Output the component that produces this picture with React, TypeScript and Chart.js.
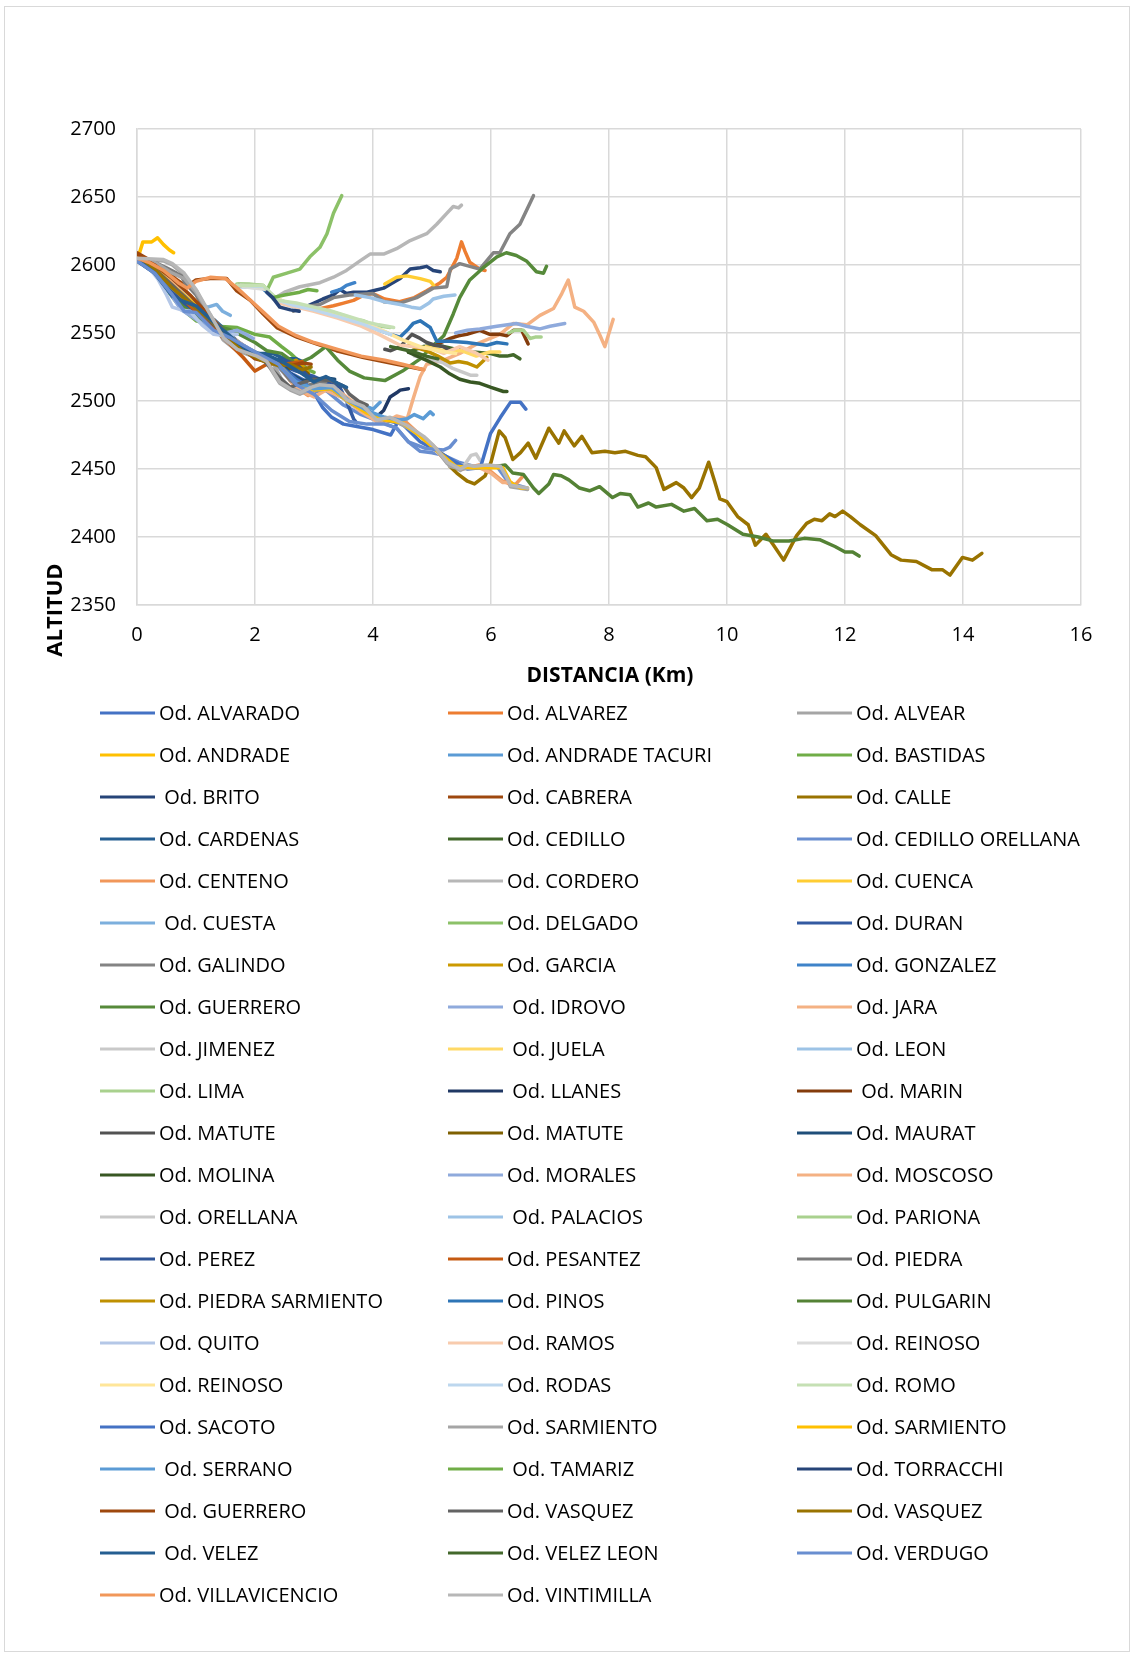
import React, { useEffect, useRef } from "react";
import { Chart, registerables } from "chart.js";

Chart.register(...registerables);

type Pt = [number, number];

// Longitudinal profiles: [distance (km), altitude (m)]
const odAlvarado: Pt[] = [[0,2605],[0.25,2598],[0.5,2586],[0.75,2574],[1.0,2563],[1.3,2553],[1.6,2546],[1.9,2538],[2.2,2530],[2.5,2523],[2.8,2516],[3.0,2506],[3.15,2495],[3.3,2488],[3.5,2483],[3.75,2481],[4.0,2479],[4.3,2475],[4.4,2483]];
const odAlvarez: Pt[] = [[3.0,2567],[3.33,2570],[3.5,2572],[3.67,2574],[3.85,2578],[4.0,2579],[4.2,2575],[4.45,2573],[4.7,2576],[4.91,2581],[5.14,2587],[5.25,2591],[5.42,2605],[5.5,2617],[5.56,2610],[5.64,2602],[5.81,2597],[5.9,2596]];
const odAlvear: Pt[] = [[0,2604],[0.45,2603],[0.6,2600],[0.79,2593],[1.01,2581],[1.24,2562],[1.46,2545],[1.69,2537],[2.03,2532],[2.2,2528],[2.42,2513],[2.6,2508],[2.76,2505],[2.95,2509],[3.1,2511],[3.33,2510],[3.45,2505],[3.55,2500],[3.84,2495],[4.06,2485],[4.29,2487],[4.58,2481],[4.86,2473],[5.03,2466],[5.15,2460],[5.26,2454],[5.48,2449],[5.6,2452],[5.71,2451],[5.93,2452],[6.16,2451],[6.25,2444],[6.33,2437],[6.62,2435]];
const odAndrade: Pt[] = [[0.0,2603],[0.1,2617],[0.25,2617],[0.35,2620],[0.45,2615],[0.55,2611],[0.62,2609]];
const odAndradeTacuri: Pt[] = [[0,2604],[0.3,2596],[0.6,2583],[0.9,2571],[1.2,2560],[1.5,2550],[1.8,2541],[2.1,2533],[2.4,2526],[2.7,2515],[3.0,2509],[3.3,2507],[3.6,2500],[3.84,2497],[4.0,2494],[4.12,2499]];
const odBastidas: Pt[] = [[0,2605],[0.3,2595],[0.5,2582],[0.75,2568],[1.0,2559],[1.35,2555],[1.7,2554],[2.0,2549],[2.25,2547],[2.45,2540],[2.6,2535],[2.75,2529],[2.9,2523],[3.0,2521]];
const odBrito: Pt[] = [[2.85,2569],[3.0,2572],[3.15,2575],[3.33,2578],[3.44,2582],[3.55,2579],[3.67,2580],[3.9,2580],[4.18,2583],[4.3,2586],[4.46,2590],[4.63,2597],[4.8,2598],[4.91,2599],[5.02,2596],[5.14,2595]];
const odCabrera: Pt[] = [[0,2609],[0.2,2604],[0.45,2598],[0.65,2590],[0.84,2584],[1.0,2589],[1.24,2590],[1.52,2590],[1.69,2581],[1.92,2574],[2.14,2564],[2.37,2554],[2.71,2547],[3.04,2542],[3.38,2537],[3.84,2532],[4.4,2527],[4.86,2523]];
const odCalle: Pt[] = [[5.3,2452],[5.42,2447],[5.6,2441],[5.72,2439],[5.9,2445],[6.0,2455],[6.14,2478],[6.24,2473],[6.37,2457],[6.5,2462],[6.63,2469],[6.76,2458],[6.98,2480],[7.15,2469],[7.24,2478],[7.41,2467],[7.54,2474],[7.71,2462],[7.93,2463],[8.1,2462],[8.28,2463],[8.49,2460],[8.62,2459],[8.8,2451],[8.93,2435],[9.14,2440],[9.27,2436],[9.4,2429],[9.53,2436],[9.69,2455],[9.79,2441],[9.88,2428],[10.0,2426],[10.18,2415],[10.36,2409],[10.48,2394],[10.66,2402],[10.79,2394],[10.96,2383],[11.18,2401],[11.35,2410],[11.48,2413],[11.61,2412],[11.74,2417],[11.83,2415],[11.96,2419],[12.09,2415],[12.26,2409],[12.52,2401],[12.78,2387],[12.95,2383],[13.21,2382],[13.47,2376],[13.65,2376],[13.78,2372],[13.99,2385],[14.16,2383],[14.32,2388]];
const odCardenas: Pt[] = [[0,2604],[0.3,2595],[0.55,2582],[0.8,2575],[1.0,2568],[1.3,2560],[1.55,2550],[1.8,2540],[2.05,2535],[2.3,2535],[2.5,2531],[2.7,2531],[2.85,2528]];
const odCedillo: Pt[] = [[4.6,2536],[4.85,2540],[5.1,2541],[5.4,2538],[5.7,2536],[5.98,2535],[6.15,2533],[6.27,2533],[6.38,2534],[6.49,2531]];
const odCedilloOrellana: Pt[] = [[0,2603],[0.3,2594],[0.55,2580],[0.75,2568],[1.0,2565],[1.3,2553],[1.6,2546],[2.0,2536],[2.4,2525],[2.7,2510],[2.9,2506],[3.2,2508],[3.5,2497],[3.8,2490],[4.1,2485],[4.4,2480],[4.6,2470],[4.8,2463],[5.0,2462],[5.2,2460],[5.45,2455],[5.7,2452],[5.9,2450],[6.1,2452],[6.3,2440],[6.6,2436]];
const odCenteno: Pt[] = [[0,2606],[0.3,2600],[0.6,2588],[0.9,2575],[1.2,2563],[1.5,2550],[1.8,2540],[2.1,2532],[2.4,2527],[2.7,2510],[2.9,2504],[3.1,2511],[3.4,2507],[3.7,2496],[4.0,2490],[4.2,2485],[4.5,2487],[4.8,2475],[5.0,2466],[5.2,2458],[5.5,2450],[5.8,2453],[6.0,2448],[6.2,2441],[6.4,2438],[6.55,2445]];
const odCordero: Pt[] = [[2.31,2575],[2.5,2580],[2.76,2584],[3.1,2587],[3.33,2591],[3.55,2596],[3.78,2603],[3.95,2608],[4.18,2608],[4.4,2612],[4.63,2618],[4.91,2623],[5.08,2630],[5.25,2638],[5.36,2643],[5.45,2642],[5.5,2644]];
const odCuenca: Pt[] = [[4.2,2586],[4.4,2591],[4.57,2592],[4.8,2590],[4.97,2588],[5.03,2585]];
const odCuesta: Pt[] = [[0,2604],[0.3,2597],[0.6,2585],[0.85,2576],[1.05,2571],[1.2,2569],[1.35,2571],[1.45,2566],[1.58,2563]];
const odDelgado: Pt[] = [[1.72,2586],[2.14,2585],[2.2,2581],[2.31,2591],[2.54,2594],[2.76,2597],[2.93,2606],[3.1,2613],[3.22,2623],[3.33,2638],[3.47,2651]];
const odDuran: Pt[] = [[0,2604],[0.3,2596],[0.6,2582],[0.9,2571],[1.2,2561],[1.5,2548],[1.8,2538],[2.1,2531],[2.4,2527],[2.7,2522],[3.0,2518],[3.2,2514],[3.44,2510],[3.55,2500],[3.67,2487],[3.72,2484]];
const odGalindo: Pt[] = [[2.65,2566],[2.8,2569],[3.1,2571],[3.33,2576],[3.6,2578],[4.0,2579],[4.18,2573],[4.46,2572],[4.74,2576],[5.02,2583],[5.25,2584],[5.31,2597],[5.47,2601],[5.81,2597],[6.04,2609],[6.15,2609],[6.32,2623],[6.49,2630],[6.72,2651]];
const odGarcia: Pt[] = [[0,2605],[0.3,2597],[0.6,2584],[0.9,2574],[1.2,2562],[1.5,2549],[1.8,2538],[2.0,2533],[2.3,2530],[2.5,2526],[2.7,2530],[2.8,2526],[2.9,2521]];
const odGonzalez: Pt[] = [[3.3,2580],[3.45,2582],[3.55,2585],[3.69,2587]];
const odGuerrero: Pt[] = [[0,2605],[0.3,2595],[0.6,2578],[0.9,2565],[1.2,2557],[1.6,2552],[2.0,2543],[2.2,2537],[2.45,2535],[2.7,2527],[2.95,2532],[3.2,2540],[3.4,2530],[3.6,2522],[3.85,2517],[4.2,2515],[4.5,2522],[4.8,2531],[5.0,2540],[5.2,2548],[5.36,2564],[5.47,2576],[5.64,2589],[5.87,2598],[6.1,2606],[6.26,2609],[6.43,2607],[6.6,2603],[6.77,2595],[6.89,2594],[6.94,2599]];
const odIdrovo: Pt[] = [[0,2604],[0.3,2597],[0.55,2580],[0.75,2567],[1.0,2560],[1.3,2552],[1.5,2550],[1.7,2552],[1.85,2549],[1.97,2546]];
const odJara: Pt[] = [[0,2605],[0.3,2601],[0.6,2590],[0.9,2577],[1.2,2564],[1.5,2550],[1.8,2541],[2.1,2533],[2.4,2528],[2.7,2512],[2.9,2505],[3.1,2510],[3.4,2508],[3.7,2498],[4.0,2490],[4.2,2484],[4.4,2489],[4.58,2487],[4.69,2503],[4.8,2518],[4.91,2527],[5.2,2530],[5.47,2535],[5.76,2542],[6.15,2549],[6.38,2557],[6.61,2556],[6.83,2563],[7.06,2568],[7.2,2579],[7.31,2589],[7.42,2569],[7.57,2566],[7.74,2558],[7.85,2548],[7.93,2540],[8.07,2560]];
const odJimenez: Pt[] = [[4.7,2533],[4.95,2531],[5.19,2528],[5.35,2524],[5.53,2521],[5.65,2519],[5.76,2519]];
const odJuela: Pt[] = [[4.9,2540],[5.2,2537],[5.5,2537],[5.75,2533],[5.98,2536],[6.15,2536]];
const odLeon: Pt[] = [[3.7,2578],[3.95,2576],[4.2,2573],[4.46,2571],[4.65,2569],[4.8,2568],[4.95,2572],[5.02,2575],[5.2,2577],[5.39,2578]];
const odLima: Pt[] = [[1.69,2586],[1.9,2586],[2.14,2585],[2.25,2579],[2.37,2575],[2.5,2573],[2.71,2571],[2.9,2569],[3.0,2568],[3.27,2566],[3.5,2563],[3.7,2560],[3.84,2559],[4.0,2556],[4.15,2555],[4.29,2554]];
const odLlanes: Pt[] = [[3.9,2491],[4.05,2488],[4.18,2493],[4.29,2503],[4.4,2506],[4.46,2508],[4.6,2509]];
const odMarin: Pt[] = [[5.1,2542],[5.31,2546],[5.45,2548],[5.59,2549],[5.81,2552],[5.98,2549],[6.15,2549],[6.27,2548],[6.38,2552],[6.52,2552],[6.63,2542]];
const odMatute: Pt[] = [[4.2,2538],[4.3,2537],[4.46,2540],[4.66,2549],[4.8,2546],[4.91,2543],[5.05,2541],[5.19,2540],[5.31,2537]];
const odMatuteB: Pt[] = [[0,2605],[0.3,2596],[0.6,2582],[0.9,2570],[1.2,2560],[1.5,2548],[1.8,2537],[2.0,2533],[2.2,2530],[2.4,2527],[2.6,2524],[2.75,2525],[2.9,2520]];
const odMaurat: Pt[] = [[0,2603],[0.3,2594],[0.6,2580],[0.9,2572],[1.2,2559],[1.5,2549],[1.8,2539],[2.1,2533],[2.4,2530],[2.6,2520],[2.8,2515],[3.0,2516],[3.2,2517],[3.35,2516]];
const odMolina: Pt[] = [[4.6,2536],[4.9,2530],[5.14,2525],[5.3,2520],[5.47,2516],[5.65,2514],[5.81,2513],[6.0,2510],[6.21,2507],[6.27,2507]];
const odMorales: Pt[] = [[5.4,2550],[5.6,2552],[5.81,2553],[6.1,2555],[6.43,2557],[6.6,2555],[6.83,2553],[7.0,2555],[7.25,2557]];
const odMoscoso: Pt[] = [[0,2605],[0.3,2600],[0.6,2589],[0.9,2577],[1.2,2563],[1.5,2549],[1.8,2539],[2.1,2531],[2.4,2526],[2.7,2509],[3.0,2503],[3.2,2508],[3.5,2502],[3.8,2492],[4.1,2484],[4.4,2486],[4.7,2478],[5.0,2468],[5.2,2460],[5.5,2451],[5.8,2451],[6.0,2447],[6.2,2440],[6.35,2440]];
const odOrellana: Pt[] = [[0,2604],[0.3,2600],[0.6,2590],[0.9,2577],[1.2,2563],[1.5,2548],[1.8,2539],[2.1,2532],[2.4,2527],[2.7,2512],[3.0,2508],[3.3,2509],[3.6,2498],[3.9,2492],[4.2,2487],[4.5,2483],[4.8,2474],[5.1,2462],[5.4,2452],[5.55,2453],[5.66,2460],[5.75,2461],[5.82,2456]];
const odPalacios: Pt[] = [[1.75,2584],[2.14,2583],[2.35,2574],[2.6,2570],[2.9,2568],[3.2,2566],[3.5,2562],[3.8,2558],[4.0,2555]];
const odPariona: Pt[] = [[6.3,2550],[6.4,2552],[6.55,2552],[6.66,2546],[6.75,2547],[6.85,2547]];
const odPerez: Pt[] = [[0,2604],[0.3,2595],[0.55,2583],[0.8,2572],[1.0,2566],[1.3,2557],[1.6,2546],[1.9,2537],[2.2,2531],[2.5,2530],[2.7,2527],[2.9,2518],[3.1,2513],[3.3,2515],[3.45,2510]];
const odPesantez: Pt[] = [[0,2605],[0.3,2596],[0.6,2584],[0.9,2570],[1.2,2557],[1.5,2545],[1.8,2532],[2.0,2522],[2.2,2527],[2.5,2527],[2.8,2529]];
const odPiedra: Pt[] = [[0,2605],[0.3,2602],[0.5,2598],[0.67,2594],[0.75,2592],[0.81,2587],[1.0,2578],[1.2,2563],[1.5,2548],[1.8,2539],[2.1,2532],[2.4,2526],[2.6,2515],[2.8,2510],[3.0,2513],[3.2,2514]];
const odPiedraSarmiento: Pt[] = [[4.6,2541],[4.9,2537],[5.1,2533],[5.31,2528],[5.45,2529],[5.59,2528],[5.76,2525],[5.93,2532]];
const odPinos: Pt[] = [[1.72,2585],[2.1,2584],[2.3,2576],[2.5,2572],[2.8,2569],[3.1,2567],[3.4,2563],[3.7,2559],[4.0,2554],[4.3,2549],[4.46,2547],[4.6,2553],[4.68,2557],[4.8,2559],[4.97,2554],[5.08,2544],[5.3,2544],[5.59,2543],[5.93,2541],[6.1,2543],[6.27,2542]];
const odPulgarin: Pt[] = [[5.7,2451],[5.9,2452],[6.1,2452],[6.24,2453],[6.37,2447],[6.55,2446],[6.72,2436],[6.81,2432],[6.98,2439],[7.06,2446],[7.19,2445],[7.32,2442],[7.5,2436],[7.67,2434],[7.84,2437],[8.06,2429],[8.19,2432],[8.36,2431],[8.49,2422],[8.67,2425],[8.8,2422],[9.06,2424],[9.27,2419],[9.45,2421],[9.66,2412],[9.84,2413],[10.01,2409],[10.27,2402],[10.53,2400],[10.79,2397],[11.05,2397],[11.31,2399],[11.57,2398],[11.83,2393],[12.0,2389],[12.13,2389],[12.24,2386]];
const odQuito: Pt[] = [[0,2604],[0.2,2598],[0.35,2590],[0.5,2578],[0.6,2569],[0.75,2567],[0.9,2566],[1.1,2556],[1.3,2549],[1.5,2548],[1.7,2549]];
const odRamos: Pt[] = [[1.7,2585],[2.14,2584],[2.4,2572],[2.7,2569],[3.0,2566],[3.4,2561],[3.8,2555],[4.1,2549],[4.46,2541],[4.7,2540],[5.02,2538],[5.2,2535],[5.47,2540],[5.76,2535],[5.95,2530]];
const odReinoso: Pt[] = [[1.8,2584],[2.2,2582],[2.4,2574],[2.8,2569],[3.2,2566],[3.6,2561],[4.0,2555],[4.3,2549]];
const odReinosoB: Pt[] = [[1.75,2585],[2.14,2584],[2.3,2577],[2.5,2573],[2.8,2570],[3.1,2567],[3.5,2562],[3.9,2556],[4.2,2551],[4.5,2545],[4.8,2540],[5.1,2537],[5.4,2535]];
const odRodas: Pt[] = [[1.75,2585],[2.15,2584],[2.35,2575],[2.6,2571],[3.0,2567],[3.4,2562],[3.8,2557],[4.1,2552],[4.3,2549]];
const odRomo: Pt[] = [[1.7,2585],[2.14,2585],[2.25,2580],[2.4,2574],[2.7,2572],[3.0,2569],[3.3,2566],[3.6,2562],[3.9,2558],[4.1,2556],[4.35,2554]];
const odSacoto: Pt[] = [[0,2604],[0.3,2597],[0.6,2583],[0.9,2572],[1.2,2561],[1.5,2549],[1.8,2538],[2.1,2532],[2.4,2527],[2.7,2516],[3.0,2508],[3.3,2509],[3.6,2499],[3.9,2492],[4.2,2486],[4.5,2483],[4.8,2470],[5.1,2463],[5.4,2455],[5.6,2450],[5.82,2451],[5.99,2476],[6.16,2488],[6.33,2499],[6.5,2499],[6.59,2494]];
const odSarmiento: Pt[] = [[0,2604],[0.3,2602],[0.6,2594],[0.8,2590],[1.0,2580],[1.25,2563],[1.5,2545],[1.75,2537],[2.0,2532],[2.3,2528],[2.5,2512],[2.8,2506],[3.1,2511],[3.4,2507],[3.6,2499],[3.9,2494],[4.1,2486],[4.3,2487],[4.6,2480],[4.9,2472],[5.1,2463],[5.3,2452],[5.5,2450],[5.75,2451],[6.0,2451]];
const odSarmientoB: Pt[] = [[0,2605],[0.3,2598],[0.6,2585],[0.9,2574],[1.2,2562],[1.5,2550],[1.8,2539],[2.1,2532],[2.4,2527],[2.7,2513],[3.0,2508],[3.3,2509],[3.6,2499],[3.9,2491],[4.2,2486],[4.5,2484],[4.8,2474],[5.1,2463],[5.4,2452],[5.7,2451],[6.0,2451],[6.2,2451],[6.33,2440],[6.5,2436],[6.62,2436]];
const odSerrano: Pt[] = [[0,2604],[0.3,2596],[0.6,2583],[0.9,2572],[1.2,2562],[1.5,2549],[1.8,2539],[2.1,2532],[2.4,2526],[2.7,2514],[3.0,2509],[3.3,2510],[3.6,2500],[3.9,2493],[4.2,2488],[4.45,2486],[4.58,2487],[4.7,2490],[4.85,2487],[4.97,2492],[5.02,2490]];
const odTamariz: Pt[] = [[2.3,2576],[2.5,2578],[2.76,2580],[2.9,2582],[3.05,2581]];
const odTorracchi: Pt[] = [[2.2,2580],[2.3,2576],[2.42,2569],[2.6,2567],[2.75,2566]];
const odGuerreroB: Pt[] = [[0,2607],[0.3,2600],[0.6,2590],[0.9,2578],[1.2,2564],[1.5,2550],[1.8,2538],[2.0,2531],[2.3,2528],[2.6,2526],[2.8,2528],[2.95,2527]];
const odVasquez: Pt[] = [[0,2604],[0.3,2597],[0.6,2585],[0.9,2573],[1.2,2562],[1.5,2549],[1.8,2539],[2.1,2532],[2.4,2518],[2.6,2510],[2.76,2513],[3.0,2516],[3.3,2515],[3.5,2511],[3.6,2505],[3.75,2500],[3.9,2497]];
const odVasquezB: Pt[] = [[0,2605],[0.3,2597],[0.6,2583],[0.9,2572],[1.2,2561],[1.5,2549],[1.8,2537],[2.1,2530],[2.4,2526],[2.6,2527],[2.8,2523],[2.95,2525]];
const odVelez: Pt[] = [[0,2604],[0.3,2594],[0.6,2577],[0.8,2573],[1.0,2570],[1.3,2558],[1.6,2547],[1.9,2536],[2.2,2534],[2.5,2528],[2.8,2520],[3.0,2514],[3.2,2518],[3.4,2513],[3.55,2510]];
const odVelezLeon: Pt[] = [[4.3,2540],[4.5,2538],[4.7,2536],[4.9,2533],[5.1,2531]];
const odVerdugo: Pt[] = [[0,2603],[0.3,2594],[0.6,2578],[0.8,2566],[1.0,2565],[1.3,2552],[1.6,2546],[2.0,2536],[2.4,2527],[2.7,2512],[3.0,2505],[3.3,2493],[3.6,2485],[3.9,2483],[4.2,2483],[4.4,2480],[4.6,2470],[4.9,2465],[5.2,2464],[5.3,2466],[5.4,2471]];
const odVillavicencio: Pt[] = [[0,2605],[0.2,2602],[0.45,2596],[0.7,2587],[0.85,2583],[1.0,2588],[1.25,2591],[1.5,2590],[1.7,2583],[1.9,2575],[2.15,2565],[2.4,2555],[2.7,2548],[3.0,2543],[3.4,2538],[3.8,2533],[4.2,2530],[4.5,2527],[4.86,2523]];
const odVintimilla: Pt[] = [[0,2605],[0.45,2604],[0.6,2601],[0.8,2594],[1.0,2582],[1.25,2563],[1.47,2546],[1.7,2538],[2.03,2533],[2.2,2529],[2.42,2514],[2.6,2509],[2.76,2506],[2.95,2510],[3.1,2512],[3.33,2511],[3.45,2506],[3.55,2501],[3.84,2496],[4.06,2486],[4.29,2488],[4.58,2482],[4.86,2474],[5.03,2467],[5.15,2461],[5.26,2455],[5.48,2450],[5.6,2453],[5.71,2452],[5.93,2453],[6.16,2452],[6.25,2445],[6.33,2438],[6.62,2436]];

const seriesNames: string[] = [
  "Od. ALVARADO", "Od. ALVAREZ", "Od. ALVEAR",
  "Od. ANDRADE", "Od. ANDRADE TACURI", "Od. BASTIDAS",
  " Od. BRITO", "Od. CABRERA", "Od. CALLE",
  "Od. CARDENAS", "Od. CEDILLO", "Od. CEDILLO ORELLANA",
  "Od. CENTENO", "Od. CORDERO", "Od. CUENCA",
  " Od. CUESTA", "Od. DELGADO", "Od. DURAN",
  "Od. GALINDO", "Od. GARCIA", "Od. GONZALEZ",
  "Od. GUERRERO", " Od. IDROVO", "Od. JARA",
  "Od. JIMENEZ", " Od. JUELA", "Od. LEON",
  "Od. LIMA", " Od. LLANES", " Od. MARIN",
  "Od. MATUTE", "Od. MATUTE", "Od. MAURAT",
  "Od. MOLINA", "Od. MORALES", "Od. MOSCOSO",
  "Od. ORELLANA", " Od. PALACIOS", "Od. PARIONA",
  "Od. PEREZ", "Od. PESANTEZ", "Od. PIEDRA",
  "Od. PIEDRA SARMIENTO", "Od. PINOS", "Od. PULGARIN",
  "Od. QUITO", "Od. RAMOS", "Od. REINOSO",
  "Od. REINOSO", "Od. RODAS", "Od. ROMO",
  "Od. SACOTO", "Od. SARMIENTO", "Od. SARMIENTO",
  " Od. SERRANO", " Od. TAMARIZ", "Od. TORRACCHI",
  " Od. GUERRERO", "Od. VASQUEZ", "Od. VASQUEZ",
  " Od. VELEZ", "Od. VELEZ LEON", "Od. VERDUGO",
  "Od. VILLAVICENCIO", "Od. VINTIMILLA",
];

const seriesValues: Pt[][] = [
  odAlvarado, odAlvarez, odAlvear,
  odAndrade, odAndradeTacuri, odBastidas,
  odBrito, odCabrera, odCalle,
  odCardenas, odCedillo, odCedilloOrellana,
  odCenteno, odCordero, odCuenca,
  odCuesta, odDelgado, odDuran,
  odGalindo, odGarcia, odGonzalez,
  odGuerrero, odIdrovo, odJara,
  odJimenez, odJuela, odLeon,
  odLima, odLlanes, odMarin,
  odMatute, odMatuteB, odMaurat,
  odMolina, odMorales, odMoscoso,
  odOrellana, odPalacios, odPariona,
  odPerez, odPesantez, odPiedra,
  odPiedraSarmiento, odPinos, odPulgarin,
  odQuito, odRamos, odReinoso,
  odReinosoB, odRodas, odRomo,
  odSacoto, odSarmiento, odSarmientoB,
  odSerrano, odTamariz, odTorracchi,
  odGuerreroB, odVasquez, odVasquezB,
  odVelez, odVelezLeon, odVerdugo,
  odVillavicencio, odVintimilla,
];

const seriesColors: string[] = [
  "#4472C4", "#ED7D31", "#A5A5A5",
  "#FFC000", "#5B9BD5", "#70AD47",
  "#264478", "#9E480E", "#997300",
  "#255E91", "#43682B", "#698ED0",
  "#F1975A", "#B7B7B7", "#FFCD33",
  "#7CAFDD", "#8CC168", "#335AA1",
  "#848484", "#CC9A00", "#3F83C9",
  "#568A3A", "#8FAADC", "#F4B183",
  "#C9C9C9", "#FFD966", "#9DC3E6",
  "#A9D18E", "#203864", "#843C0C",
  "#525252", "#7F6000", "#1F4E79",
  "#385723", "#8FAADC", "#F4B183",
  "#C9C9C9", "#9DC3E6", "#A9D18E",
  "#2F5597", "#C55A11", "#7B7B7B",
  "#BF9000", "#2E75B6", "#548235",
  "#B4C7E7", "#F8CBAD", "#DBDBDB",
  "#FFE699", "#BDD7EE", "#C5E0B4",
  "#4472C4", "#A5A5A5", "#FFC000",
  "#5B9BD5", "#70AD47", "#264478",
  "#9E480E", "#636363", "#997300",
  "#255E91", "#43682B", "#698ED0",
  "#F1975A", "#B7B7B7",
];

const xTitle = "DISTANCIA (Km)";
const yTitle = "ALTITUD";
const xMin = 0, xMax = 16, xStep = 2;
const yMin = 2350, yMax = 2700, yStep = 50;

const W = 1132;
const H = 1654;
const FONT = '"Open Sans", sans-serif';

const framePlugin = {
  id: "frameAndTitles",
  beforeDraw(chart: any) {
    const ctx = chart.ctx;
    ctx.save();
    ctx.fillStyle = "#ffffff";
    ctx.fillRect(0, 0, W, H);
    ctx.strokeStyle = "#d9d9d9";
    ctx.lineWidth = 1;
    ctx.strokeRect(4.5, 6.5, W - 7, H - 9);
    ctx.restore();
  },
  afterDraw(chart: any) {
    const ctx = chart.ctx;
    const area = chart.chartArea;
    ctx.save();
    ctx.fillStyle = "#000000";
    // axis titles
    ctx.font = `bold 21px ${FONT}`;
    ctx.textAlign = "center";
    ctx.textBaseline = "middle";
    ctx.fillText(xTitle, (area.left + area.right) / 2 + 1, 676);
    ctx.save();
    ctx.translate(56, 610);
    ctx.rotate(-Math.PI / 2);
    ctx.font = `bold 22px ${FONT}`;
    ctx.fillText(yTitle, 0, 0);
    ctx.restore();

    // legend: three columns, filled row by row
    const lineX = [100, 448, 797];
    const lineLen = 55;
    ctx.font = `20px ${FONT}`;
    ctx.textAlign = "left";
    ctx.textBaseline = "middle";
    seriesNames.forEach((name, i) => {
      const row = Math.floor(i / 3);
      const col = i % 3;
      const y = 713 + row * 42;
      const x0 = lineX[col];
      ctx.strokeStyle = seriesColors[i];
      ctx.lineWidth = 3;
      ctx.lineCap = "butt";
      ctx.beginPath();
      ctx.moveTo(x0, y);
      ctx.lineTo(x0 + lineLen, y);
      ctx.stroke();
      ctx.fillStyle = "#000000";
      ctx.fillText(name, x0 + lineLen + 4, y + 1);
    });
    ctx.restore();
  },
};

export default function App() {
  const canvasRef = useRef<HTMLCanvasElement | null>(null);

  useEffect(() => {
    document.body.style.margin = "0";
    const canvas = canvasRef.current;
    if (!canvas) return;

    const datasets = seriesValues.map((pts, i) => ({
      label: seriesNames[i],
      data: pts.map(([x, y]) => ({ x, y })),
      borderColor: seriesColors[i],
      backgroundColor: seriesColors[i],
      borderWidth: 3.5,
      pointRadius: 0,
      pointHoverRadius: 0,
      showLine: true,
      fill: false,
      tension: 0,
      borderJoinStyle: "round" as const,
      borderCapStyle: "round" as const,
      order: -i,
    }));

    const chart = new Chart(canvas, {
      type: "scatter",
      data: { datasets },
      options: {
        responsive: false,
        animation: false,
        devicePixelRatio: 1,
        layout: { padding: { top: 129, right: 51, bottom: 0, left: 0 } },
        plugins: {
          legend: { display: false },
          tooltip: { enabled: false },
          title: { display: false },
        },
        scales: {
          x: {
            type: "linear",
            min: xMin,
            max: xMax,
            ticks: {
              stepSize: xStep,
              padding: 18,
              color: "#000000",
              font: { family: FONT, size: 20 },
              maxRotation: 0,
              callback: (v: any) => String(v),
            },
            grid: { color: "#d9d9d9", lineWidth: 1.5, drawTicks: false },
            border: { color: "#d9d9d9", width: 1.5 },
            afterFit: (scale: any) => {
              scale.height = H - 605;
            },
          },
          y: {
            type: "linear",
            min: yMin,
            max: yMax,
            ticks: {
              stepSize: yStep,
              padding: 21,
              color: "#000000",
              font: { family: FONT, size: 20 },
              callback: (v: any) => String(v),
            },
            grid: { color: "#d9d9d9", lineWidth: 1.5, drawTicks: false },
            border: { color: "#d9d9d9", width: 1.5 },
            afterFit: (scale: any) => {
              scale.width = 137;
            },
          },
        },
      },
      plugins: [framePlugin],
    });

    return () => chart.destroy();
  }, []);

  return (
    <div style={{ width: W, height: H, position: "relative", background: "#fff" }}>
      <canvas ref={canvasRef} width={W} height={H} style={{ display: "block" }} />
    </div>
  );
}
